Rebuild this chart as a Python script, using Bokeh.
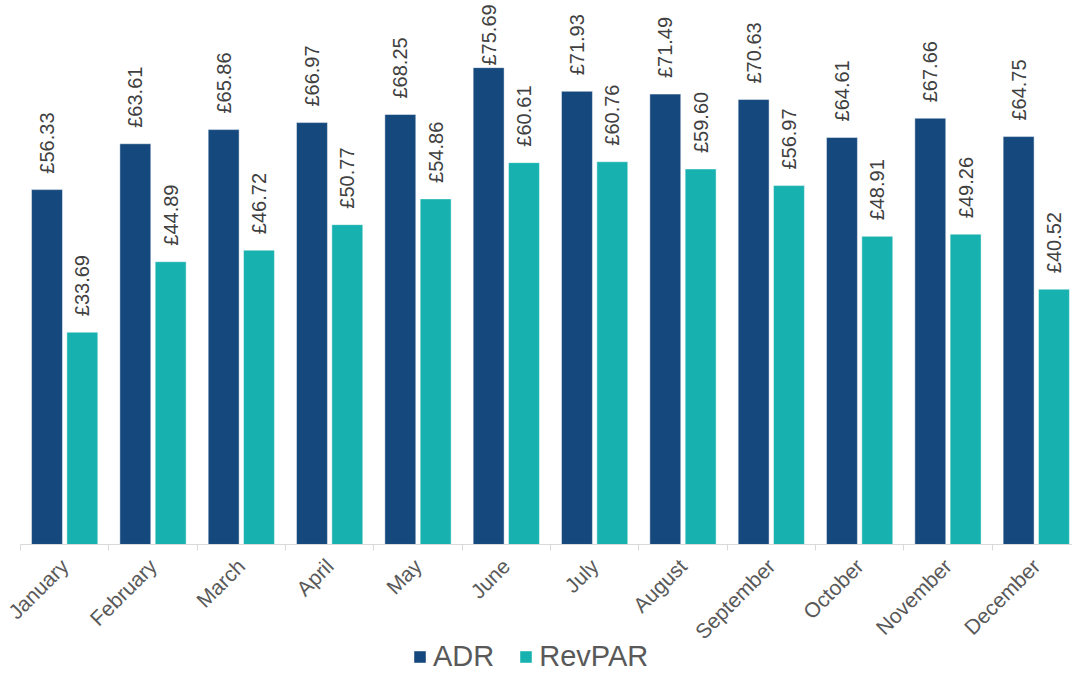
from math import pi

from bokeh.plotting import figure
from bokeh.core.properties import value
from bokeh.models import (ColumnDataSource, Range1d, FixedTicker, LabelSet,
                          Legend, LegendItem, CustomJSTickFormatter)
from bokeh.embed import file_html
from bokeh.resources import INLINE

# Monthly hotel performance (GBP)
months = ["January", "February", "March", "April", "May", "June", "July",
          "August", "September", "October", "November", "December"]
adr = [56.33, 63.61, 65.86, 66.97, 68.25, 75.69, 71.93, 71.49, 70.63, 64.61, 67.66, 64.75]
revpar = [33.69, 44.89, 46.72, 50.77, 54.86, 60.61, 60.76, 59.60, 56.97, 48.91, 49.26, 40.52]

ADR_COLOR = "#15497E"
REVPAR_COLOR = "#17B2AF"
FONT = "Liberation Sans"

Y_MAX = 86.35          # top of the value scale
PX_PER_UNIT = 6.30     # vertical pixels per pound
LABEL_GAP = 16         # gap between bar top and its value label (px)
LABEL_LEN = 65         # rough length of a rotated value label (px)


def label_offsets(vals):
    # push a label down when it would run past the top of the plot
    return [min(LABEL_GAP, (Y_MAX - v) * PX_PER_UNIT - LABEL_LEN) for v in vals]


idx = list(range(len(months)))
adr_src = ColumnDataSource(dict(
    x=[i + 0.30 for i in idx], v=adr, lab=["£%.2f" % v for v in adr],
    off=label_offsets(adr)))
rev_src = ColumnDataSource(dict(
    x=[i + 0.70 for i in idx], v=revpar, lab=["£%.2f" % v for v in revpar],
    off=label_offsets(revpar)))

# The frame spans the whole canvas; the category axis sits at y = 0 inside it
p = figure(width=1072, height=673, output_backend="svg", toolbar_location=None,
           x_range=Range1d(-0.2264, 11.91), y_range=Range1d(-20.48, Y_MAX))
p.min_border_left = 0
p.min_border_right = 0
p.min_border_top = 0
p.min_border_bottom = 0
p.outline_line_color = None
p.grid.visible = False
p.yaxis.visible = False
p.background_fill_color = "white"
p.border_fill_color = "white"

bar_w = 0.35
r_adr = p.vbar(x="x", top="v", width=bar_w, source=adr_src, fill_color=ADR_COLOR,
               line_color="white", line_alpha=0.45, line_width=1)
r_rev = p.vbar(x="x", top="v", width=bar_w, source=rev_src, fill_color=REVPAR_COLOR,
               line_color="white", line_alpha=0.45, line_width=1)

for src in (adr_src, rev_src):
    p.add_layout(LabelSet(x="x", y="v", text="lab", source=src, angle=pi / 2,
                          y_offset="off", text_align="left", text_baseline="middle",
                          text_font=value(FONT), text_font_size="20px",
                          text_color="#404040"))

# Category axis: separators as minor ticks, month names at the centres
xa = p.xaxis[0]
xa.fixed_location = 0
xa.bounds = (0, 11.91)
xa.ticker = FixedTicker(ticks=[i + 0.5 for i in idx], minor_ticks=[float(i) for i in idx])
xa.formatter = CustomJSTickFormatter(args=dict(months=months),
                                     code="return months[Math.floor(tick)];")
xa.major_label_orientation = pi / 4
xa.major_label_text_font = FONT
xa.major_label_text_font_size = "21px"
xa.major_label_text_color = "#595959"
xa.major_label_standoff = 12
xa.major_tick_out = 0
xa.major_tick_in = 0
xa.minor_tick_out = 6
xa.minor_tick_in = 0
xa.minor_tick_line_color = "#D9D9D9"
xa.axis_line_color = "#D9D9D9"
xa.axis_line_width = 1

legend = Legend(items=[LegendItem(label="ADR", renderers=[r_adr]),
                       LegendItem(label="RevPAR", renderers=[r_rev])],
                orientation="horizontal", location=(412, 0),
                label_text_font=FONT, label_text_font_size="29px",
                label_text_color="#595959", glyph_width=15, glyph_height=15,
                label_standoff=6, spacing=24, padding=0, margin=0,
                border_line_alpha=0, background_fill_alpha=0)
p.add_layout(legend, "center")

open("out.html", "w").write(file_html(p, INLINE))
